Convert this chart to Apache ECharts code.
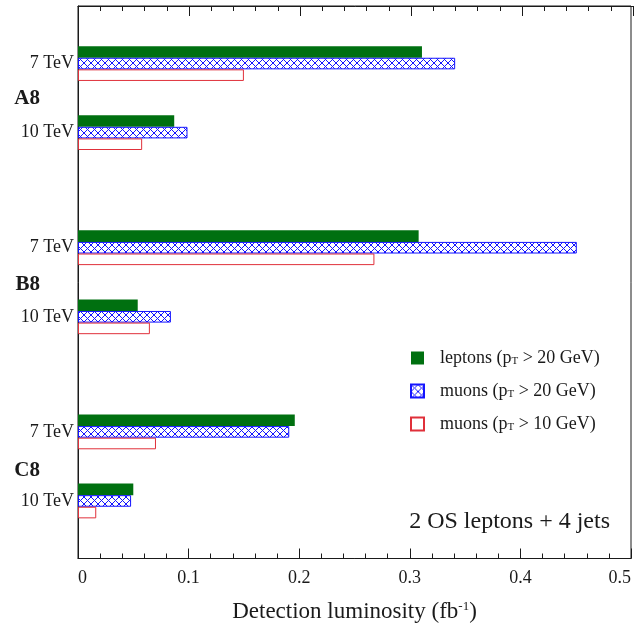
<!DOCTYPE html>
<html>
<head>
<meta charset="utf-8">
<script src="https://cdn.jsdelivr.net/npm/echarts@6/dist/echarts.min.js"></script>
<style>
html,body{margin:0;padding:0;background:#fff;}
#main{width:634px;height:628px;}
</style>
</head>
<body>
<div id="main"></div>
<script>
// ---- data ----
const groups = ['A8', 'B8', 'C8'];
const energies = ['7 TeV', '10 TeV'];
const seriesNames = ['leptons (pT > 20 GeV)', 'muons (pT > 20 GeV)', 'muons (pT > 10 GeV)'];
// order: A8 7TeV, A8 10TeV, B8 7TeV, B8 10TeV, C8 7TeV, C8 10TeV
const leptons20 = [0.311, 0.087, 0.308, 0.054, 0.196, 0.050];
const muons20   = [0.341, 0.099, 0.451, 0.084, 0.191, 0.048];
const muons10   = [0.150, 0.058, 0.268, 0.065, 0.0705, 0.0165];
const xTickValues = [0, 0.1, 0.2, 0.3, 0.4, 0.5];
const noteText = '2 OS leptons + 4 jets';
const axisTitle = 'Detection luminosity (fb';
const axisTitleSup = '-1';

// ---- layout helpers (slots on the category axis) ----
const NSLOT = 24;
const slotOf = (gi, ei) => 2 + gi * 8 + ei * 3;
const slotLabels = new Array(NSLOT).fill('');
const rowSlots = [];
groups.forEach((g, gi) => energies.forEach((e, ei) => {
  slotLabels[slotOf(gi, ei)] = e;
  rowSlots.push(slotOf(gi, ei));
}));
const groupAt = {};
groups.forEach((g, gi) => { groupAt[4 + gi * 8] = g; });

const FONT = '"Liberation Serif", "Times New Roman", serif';
const INK = '#1a1a1a';

// hatch pattern
const pc = document.createElement('canvas');
pc.width = 7; pc.height = 7;
const g2 = pc.getContext('2d');
g2.fillStyle = '#ffffff'; g2.fillRect(0, 0, 7, 7);
g2.strokeStyle = '#1414ff'; g2.lineWidth = 1;
g2.beginPath();
g2.moveTo(0, 0); g2.lineTo(7, 7);
g2.moveTo(7, 0); g2.lineTo(0, 7);
g2.stroke();

const toData = arr => arr.map((v, i) => [v, rowSlots[i]]);

const chart = echarts.init(document.getElementById('main'), null, {renderer: 'canvas'});
const commonX = {
  type: 'value', min: 0, max: 0.5, interval: 0.1,
  splitLine: {show: false},
  axisLine: {show: true, onZero: false, lineStyle: {color: INK, width: 1}},
  axisTick: {show: true, inside: true, length: 10, lineStyle: {color: INK}},
  minorTick: {show: true, splitNumber: 5, length: 5, lineStyle: {color: INK}},
};
chart.setOption({
  animation: false,
  backgroundColor: '#fff',
  title: {
    text: noteText, right: 19, top: 505,
    textStyle: {fontFamily: FONT, fontSize: 24, fontWeight: 'normal', color: INK}
  },
  legend: {
    orient: 'vertical', left: 405, top: 344,
    itemWidth: 13, itemHeight: 13, itemGap: 15, icon: 'rect',
    data: seriesNames,
    formatter: name => {
      const p = name.split('pT');
      return '{t|' + p[0] + 'p}{s|T}{t|' + p[1] + '}';
    },
    textStyle: {
      fontFamily: FONT, color: INK, padding: [0, 0, 0, 11],
      rich: {
        t: {fontFamily: FONT, fontSize: 18, color: INK, lineHeight: 20},
        s: {fontFamily: FONT, fontSize: 11, color: INK, lineHeight: 20, padding: [7, 0, 0, 0]}
      }
    }
  },
  grid: [
    {left: 78, right: 1, top: 6, bottom: 65, show: true, borderColor: INK, borderWidth: 1, backgroundColor: 'transparent'},
    {left: 78, right: 1, top: 6, bottom: 65}
  ],
  xAxis: [
    Object.assign({}, commonX, {
      gridIndex: 0, position: 'bottom',
      axisLabel: {
        show: true, margin: 11, fontFamily: FONT, fontSize: 18, color: INK,
        alignMinLabel: 'left', alignMaxLabel: 'right',
        formatter: v => String(Math.round(v * 10) / 10)
      },
      name: '{t|' + axisTitle + '}{u|' + axisTitleSup + '}{t|)}',
      nameLocation: 'middle', nameGap: 40,
      nameTextStyle: {
        rich: {
          t: {fontFamily: FONT, fontSize: 23, color: INK, lineHeight: 26},
          u: {fontFamily: FONT, fontSize: 13, color: INK, lineHeight: 26, padding: [0, 0, 10, 0]}
        }
      }
    }),
    Object.assign({}, commonX, {
      gridIndex: 1, position: 'top',
      axisLabel: {show: false}
    })
  ],
  yAxis: [
    {
      type: 'category', gridIndex: 0, inverse: true, data: slotLabels,
      axisLine: {show: true, lineStyle: {color: INK}},
      axisTick: {show: false},
      splitLine: {show: false},
      axisLabel: {interval: 0, margin: 4, fontFamily: FONT, fontSize: 18, color: INK}
    },
    {
      type: 'value', gridIndex: 1, inverse: true, min: 0, max: NSLOT, interval: 4,
      axisLine: {show: false}, axisTick: {show: false}, splitLine: {show: false},
      axisLabel: {
        margin: 38, fontFamily: FONT, fontSize: 21, fontWeight: 'bold', color: INK,
        formatter: v => groupAt[v] || ''
      }
    }
  ],
  series: [
    {
      name: seriesNames[0], type: 'bar', xAxisIndex: 0, yAxisIndex: 0,
      barWidth: 11.6, barGap: '0%',
      itemStyle: {color: '#007010'},
      data: toData(leptons20)
    },
    {
      name: seriesNames[1], type: 'bar', xAxisIndex: 0, yAxisIndex: 0,
      barWidth: 11.6, barGap: '0%',
      itemStyle: {color: {image: pc, repeat: 'repeat'}, borderColor: '#1414ff', borderWidth: 1},
      data: toData(muons20)
    },
    {
      name: seriesNames[2], type: 'bar', xAxisIndex: 0, yAxisIndex: 0,
      barWidth: 11.6, barGap: '0%',
      itemStyle: {color: 'rgba(255,255,255,0)', borderColor: '#e0303a', borderWidth: 1},
      data: toData(muons10)
    }
  ]
});
</script>
</body>
</html>
